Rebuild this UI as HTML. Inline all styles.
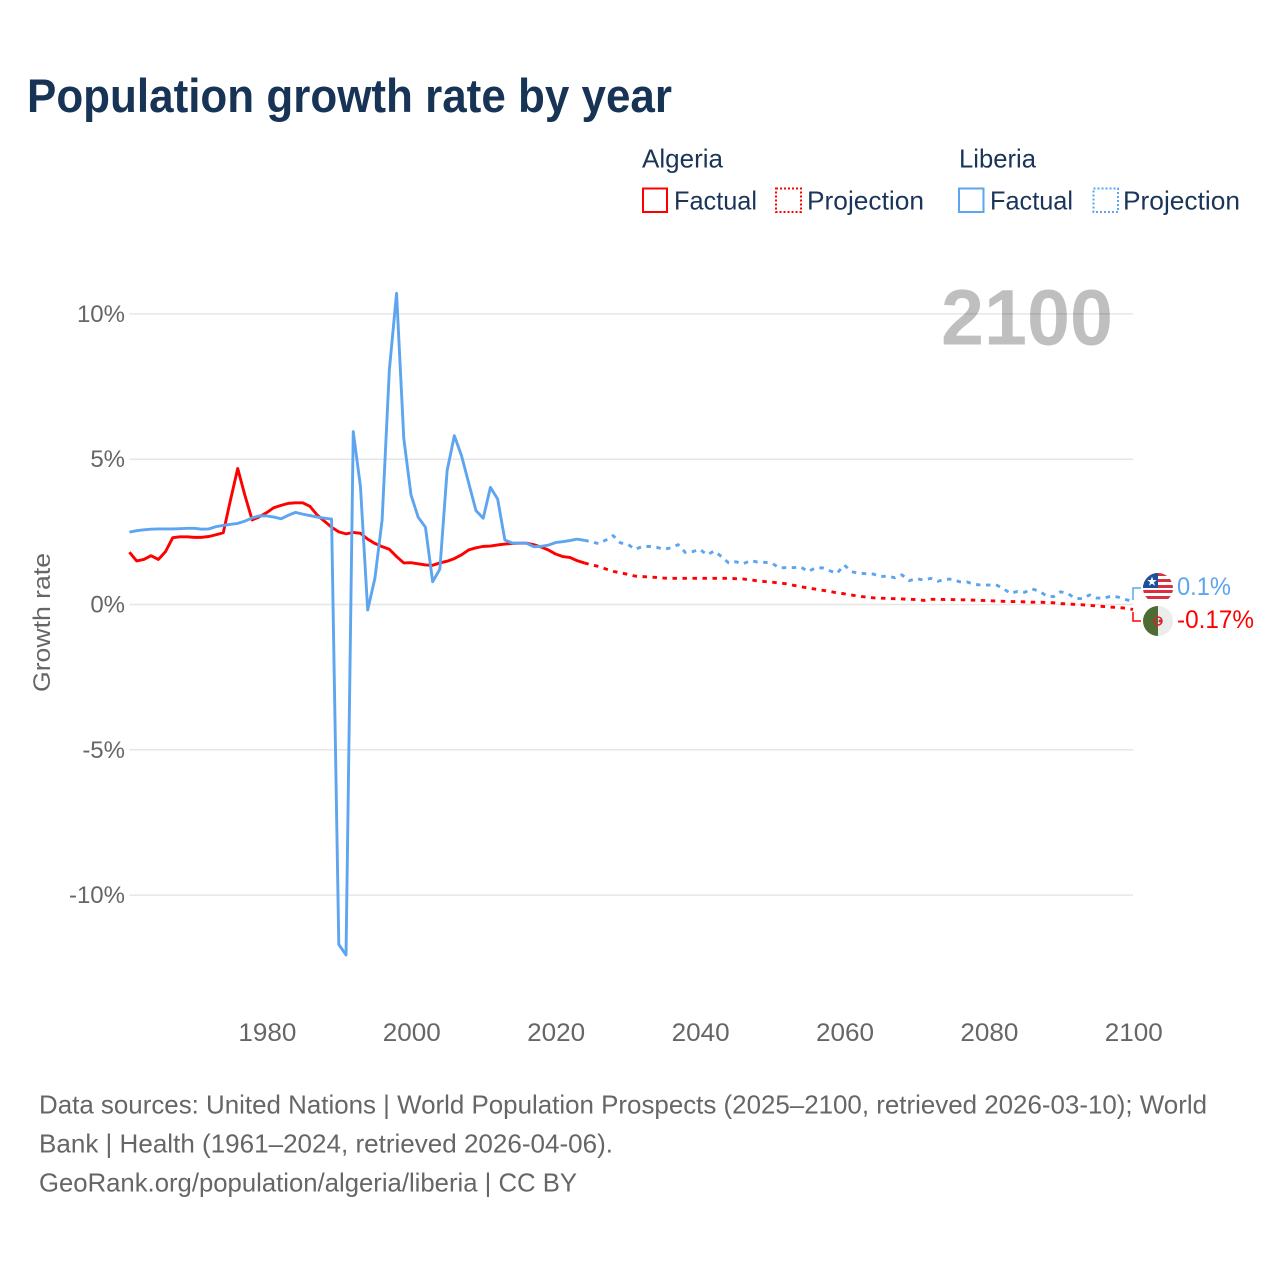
<!DOCTYPE html>
<html lang="en">
<head>
<meta charset="utf-8">
<title>Population growth rate by year</title>
<style>
html,body{margin:0;padding:0;background:#fff;}
svg{display:block;font-family:"Liberation Sans",Arial,sans-serif;}
</style>
</head>
<body>
<svg id="chart" width="1280" height="1280" viewBox="0 0 1280 1280" xmlns="http://www.w3.org/2000/svg">
  <rect x="0" y="0" width="1280" height="1280" fill="#ffffff"/>
  <text x="27" y="112" font-size="47" font-weight="700" fill="#173355" textLength="645" lengthAdjust="spacingAndGlyphs">Population growth rate by year</text>

  <g font-size="26" fill="#1a3558">
    <text x="642" y="167.500" textLength="81" lengthAdjust="spacingAndGlyphs">Algeria</text>
    <rect x="643" y="188.500" width="24" height="23.500" fill="none" stroke="#ff0000" stroke-width="2"/>
    <text x="674" y="209.500" textLength="83" lengthAdjust="spacingAndGlyphs">Factual</text>
    <rect x="776" y="188.500" width="25" height="23.500" fill="none" stroke="#ff0000" stroke-width="2" stroke-dasharray="2 2"/>
    <text x="807" y="209.500" textLength="117" lengthAdjust="spacingAndGlyphs">Projection</text>
    <text x="959" y="167.500" textLength="77" lengthAdjust="spacingAndGlyphs">Liberia</text>
    <rect x="959" y="188.500" width="24.500" height="23.500" fill="none" stroke="#5da5ee" stroke-width="2"/>
    <text x="990" y="209.500" textLength="83" lengthAdjust="spacingAndGlyphs">Factual</text>
    <rect x="1093.500" y="188.500" width="24.500" height="23.500" fill="none" stroke="#5da5ee" stroke-width="2" stroke-dasharray="2 2"/>
    <text x="1123" y="209.500" textLength="117" lengthAdjust="spacingAndGlyphs">Projection</text>
  </g>

  <g id="grid"></g>
  <text x="941" y="344.500" font-size="79" font-weight="700" fill="#000000" fill-opacity="0.25" textLength="172" lengthAdjust="spacingAndGlyphs">2100</text>
  <g id="y-ticks" font-size="24" fill="#666666" text-anchor="end"></g>
  <g id="x-ticks" font-size="25" fill="#666666" text-anchor="middle"></g>
  <text transform="translate(50,622.500) rotate(-90)" font-size="24.500" fill="#666666" text-anchor="middle" textLength="139" lengthAdjust="spacingAndGlyphs">Growth rate</text>
  <g id="series"></g>

  <path d="M1133 600V588H1141" fill="none" stroke="#5da5ee" stroke-width="1.500"/>
  <path d="M1133 612V621H1141" fill="none" stroke="#ff0000" stroke-width="1.500"/>

  <defs>
    <clipPath id="flag-lr"><circle cx="1158" cy="588" r="15"/></clipPath>
    <clipPath id="flag-dz"><circle cx="1158" cy="621" r="15"/></clipPath>
  </defs>
  <g clip-path="url(#flag-lr)">
    <rect x="1143" y="573" width="30" height="30" fill="#ffffff"/>
    <rect x="1143" y="573" width="30" height="3" fill="#d9303f"/>
    <rect x="1143" y="579" width="30" height="3" fill="#d9303f"/>
    <rect x="1143" y="585" width="30" height="3" fill="#d9303f"/>
    <rect x="1143" y="590" width="30" height="3" fill="#d9303f"/>
    <rect x="1143" y="596" width="30" height="3" fill="#d9303f"/>
    <rect x="1143" y="573" width="15" height="15" fill="#1d4f9c"/>
    <path d="M1152 576.500l1.200 3.500h3.600l-2.900 2.200 1.100 3.500-3-2.100-3 2.100 1.100-3.500-2.900-2.200h3.600z" fill="#ffffff"/>
  </g>
  <g clip-path="url(#flag-dz)">
    <rect x="1143" y="606" width="15" height="30" fill="#4d6b33"/>
    <rect x="1158" y="606" width="15" height="30" fill="#ececec"/>
    <circle cx="1158" cy="621" r="4" fill="none" stroke="#d8202c" stroke-width="1.500"/>
    <circle cx="1160" cy="621" r="1.500" fill="#d8202c"/>
  </g>
  <text x="1177" y="595" font-size="25" fill="#5da5ee" textLength="54" lengthAdjust="spacingAndGlyphs">0.1%</text>
  <text x="1177" y="628" font-size="25" fill="#ff0000" textLength="77" lengthAdjust="spacingAndGlyphs">-0.17%</text>

  <g font-size="26" fill="#666666">
    <text x="39" y="1113.500" textLength="1168" lengthAdjust="spacingAndGlyphs">Data sources: United Nations | World Population Prospects (2025–2100, retrieved 2026-03-10); World</text>
    <text x="39" y="1152.500" textLength="574" lengthAdjust="spacingAndGlyphs">Bank | Health (1961–2024, retrieved 2026-04-06).</text>
    <text x="39" y="1191.500" textLength="538" lengthAdjust="spacingAndGlyphs">GeoRank.org/population/algeria/liberia | CC BY</text>
  </g>
</svg>
<script>
const factualStartYear = 1961;
const projectionStartYear = 2025;
const xTickYears = [1980, 2000, 2020, 2040, 2060, 2080, 2100];
const yTickValues = [10, 5, 0, -5, -10];
const yTickLabels = ['10%', '5%', '0%', '-5%', '-10%'];

const algeriaFactual = [
  1.80,1.50,1.55,1.68,1.55,1.82,2.30,2.33,2.33,2.31,
  2.31,2.34,2.40,2.47,3.60,4.68,3.75,2.91,3.02,3.16,
  3.33,3.41,3.48,3.50,3.50,3.38,3.08,2.87,2.66,2.50,
  2.43,2.48,2.45,2.25,2.10,1.99,1.90,1.65,1.43,1.44,
  1.40,1.36,1.35,1.43,1.49,1.58,1.71,1.88,1.95,2.00,
  2.01,2.05,2.08,2.10,2.11,2.11,2.06,1.98,1.88,1.74,
  1.65,1.62,1.51,1.43
];
const algeriaProjection = [
  1.36,1.31,1.22,1.14,1.09,1.04,0.98,0.96,0.95,0.93,
  0.91,0.90,0.90,0.90,0.90,0.90,0.90,0.90,0.90,0.90,
  0.89,0.88,0.85,0.81,0.79,0.77,0.74,0.71,0.66,0.61,
  0.57,0.53,0.49,0.45,0.40,0.37,0.33,0.28,0.26,0.23,
  0.22,0.21,0.20,0.19,0.18,0.17,0.14,0.18,0.18,0.17,
  0.17,0.16,0.16,0.15,0.14,0.13,0.12,0.11,0.10,0.10,
  0.09,0.08,0.08,0.07,0.06,0.03,0.02,0.00,-0.01,-0.03,
  -0.05,-0.07,-0.09,-0.10,-0.13,-0.17
];
const liberiaFactual = [
  2.49,2.54,2.57,2.59,2.60,2.60,2.60,2.61,2.62,2.62,
  2.59,2.60,2.68,2.72,2.76,2.79,2.87,2.98,3.05,3.05,
  3.01,2.95,3.07,3.17,3.11,3.06,3.01,2.97,2.94,-11.70,
  -12.06,5.95,4.05,-0.19,0.90,2.91,8.07,10.71,5.72,3.77,
  3.00,2.66,0.78,1.22,4.60,5.81,5.12,4.17,3.23,2.97,
  4.03,3.63,2.22,2.12,2.11,2.11,1.99,2.00,2.04,2.13,
  2.16,2.20,2.25,2.21
];
const liberiaProjection = [
  2.16,2.09,2.22,2.37,2.12,2.08,1.90,1.99,2.00,1.97,
  1.90,1.95,2.06,1.79,1.82,1.90,1.71,1.84,1.65,1.43,
  1.47,1.40,1.51,1.46,1.45,1.42,1.26,1.27,1.27,1.29,
  1.13,1.26,1.26,1.16,1.07,1.36,1.13,1.08,1.06,1.05,
  0.96,0.98,0.92,1.02,0.82,0.89,0.84,0.90,0.80,0.87,
  0.87,0.78,0.78,0.69,0.67,0.67,0.68,0.56,0.38,0.45,
  0.42,0.54,0.46,0.30,0.27,0.44,0.37,0.21,0.20,0.33,
  0.22,0.22,0.29,0.25,0.17,0.10
];

const ns = 'http://www.w3.org/2000/svg';
function xScale(year) { return 1133 + (year - 2100) * 7.22; }
function yScale(value) { return 604.5 - value * 29.06; }

function makeLine(startYear, values, prefix) {
  const pts = values.map(function (v, i) {
    return xScale(startYear + i).toFixed(2) + ',' + yScale(v).toFixed(2);
  });
  return prefix ? [prefix].concat(pts).join(' ') : pts.join(' ');
}

const gridGroup = document.getElementById('grid');
const yTickGroup = document.getElementById('y-ticks');
yTickValues.forEach(function (v, i) {
  const line = document.createElementNS(ns, 'line');
  
  
  line.setAttribute('x1', xScale(1961));
  line.setAttribute('x2', xScale(2100));
  line.setAttribute('y1', yScale(v));
  line.setAttribute('y2', yScale(v));
  line.setAttribute('stroke', '#e6e6e6');
  line.setAttribute('stroke-width', '1.5');
  gridGroup.appendChild(line);

  const label = document.createElementNS(ns, 'text');
  
  
  label.setAttribute('x', 125);
  label.setAttribute('y', yScale(v) + 8);
  label.textContent = yTickLabels[i];
  yTickGroup.appendChild(label);
});

const xTickGroup = document.getElementById('x-ticks');
xTickYears.forEach(function (year) {
  const label = document.createElementNS(ns, 'text');
  
  
  label.setAttribute('x', xScale(year) + 0.8);
  label.setAttribute('y', 1041);
  label.setAttribute('textLength', 58);
  label.setAttribute('lengthAdjust', 'spacingAndGlyphs');
  label.textContent = String(year);
  xTickGroup.appendChild(label);
});

const seriesGroup = document.getElementById('series');
function addLine(points, color, dashed) {
  const line = document.createElementNS(ns, 'polyline');
  line.setAttribute('points', points);
  line.setAttribute('fill', 'none');
  line.setAttribute('stroke', color);
  line.setAttribute('stroke-width', '2.9');
  line.setAttribute('stroke-linejoin', 'round');
  if (dashed) {
    line.setAttribute('stroke-dasharray', '4.5 5.5');
  }
  seriesGroup.appendChild(line);
  return line;
}

function lastPoint(startYear, values) {
  const i = values.length - 1;
  return xScale(startYear + i).toFixed(2) + ',' + yScale(values[i]).toFixed(2);
}

const algeriaProjLine = addLine(makeLine(projectionStartYear, algeriaProjection, lastPoint(factualStartYear, algeriaFactual)), '#ff0000', true);



const algeriaLine = addLine(makeLine(factualStartYear, algeriaFactual), '#ff0000', false);



const liberiaProjLine = addLine(makeLine(projectionStartYear, liberiaProjection, lastPoint(factualStartYear, liberiaFactual)), '#5da5ee', true);



const liberiaLine = addLine(makeLine(factualStartYear, liberiaFactual), '#5da5ee', false);


</script>
</body>
</html>
